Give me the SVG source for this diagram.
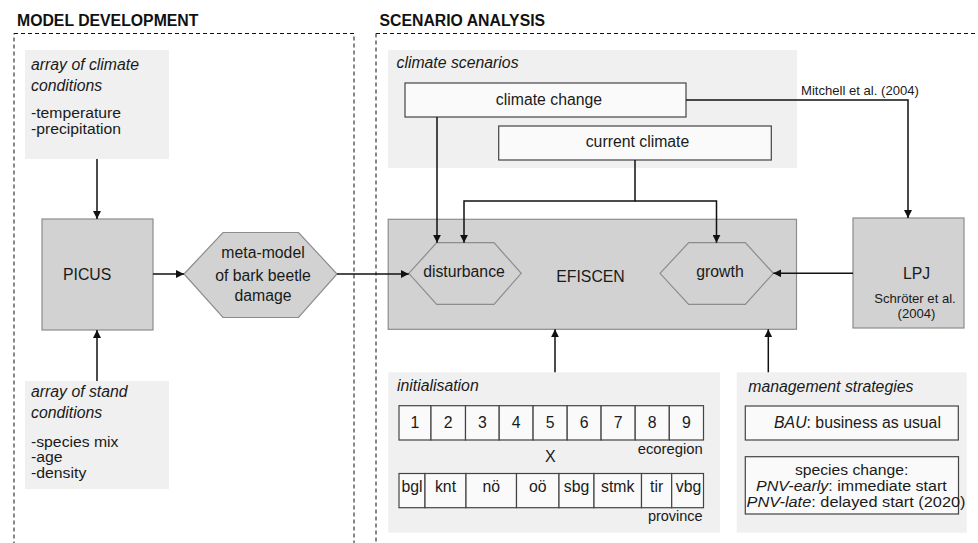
<svg xmlns="http://www.w3.org/2000/svg" width="978" height="543" viewBox="0 0 978 543">
<defs>
<marker id="ah" viewBox="0 0 10 10" refX="10" refY="5" markerWidth="8" markerHeight="8" markerUnits="userSpaceOnUse" orient="auto">
<path d="M0,0 L10,5 L0,10 z" fill="#111"/>
</marker>
</defs>
<style>
text{font-family:"Liberation Sans",Arial,sans-serif;fill:#1a1a1a;font-size:15.8px}
.hdr{font-weight:bold;font-size:15.8px;fill:#111}
.it{font-style:italic}
.sm{font-size:13.1px}
.tight{font-size:14px}
.mid{text-anchor:middle}
.end{text-anchor:end}
.dash{fill:none;stroke:#111;stroke-width:1;stroke-dasharray:4,3}
.bg{fill:#f0f0f0;stroke:none}
.node{fill:#d1d2d1;stroke:#8c8c8c;stroke-width:1.2}
.wbox{fill:#fafafa;stroke:#444;stroke-width:1.2}
.cell{fill:#fafafa;stroke:#444;stroke-width:1.2}
.conn path{fill:none;stroke:#111;stroke-width:1.5}
</style>
<rect width="978" height="543" fill="#ffffff"/>

<g id="model-development">
<text class="hdr" x="17" y="26">MODEL DEVELOPMENT</text>
<rect class="dash" x="14" y="33.5" width="340" height="560"/>
</g>
<g id="scenario-analysis">
<text class="hdr" x="379.5" y="26">SCENARIO ANALYSIS</text>
<rect class="dash" x="376" y="33.5" width="660" height="560"/>
</g>

<g id="climate-conditions">
<rect class="bg" x="25" y="50" width="144" height="109"/>
<text class="it" x="31" y="69.5">array of climate</text>
<text class="it" x="31" y="90.5">conditions</text>
<text class="tight" x="31" y="117.5" textLength="90" lengthAdjust="spacingAndGlyphs">-temperature</text>
<text class="tight" x="31" y="133.5" textLength="90" lengthAdjust="spacingAndGlyphs">-precipitation</text>
</g>

<g id="stand-conditions">
<rect class="bg" x="25" y="381" width="144" height="108"/>
<text class="it" x="31" y="397">array of stand</text>
<text class="it" x="31" y="418">conditions</text>
<text class="tight" x="31" y="446.5" textLength="87.5" lengthAdjust="spacingAndGlyphs">-species mix</text>
<text class="tight" x="31" y="462.3" textLength="31.6" lengthAdjust="spacingAndGlyphs">-age</text>
<text class="tight" x="31" y="478.3" textLength="55.3" lengthAdjust="spacingAndGlyphs">-density</text>
</g>

<g id="picus">
<rect class="node" x="42" y="219" width="111" height="111"/>
<text x="63" y="279.5">PICUS</text>
</g>

<g id="meta-model">
<polygon class="node" points="184,274 223,232.5 298.5,232.5 337,274 298.5,317.5 223,317.5"/>
<text class="mid" x="263" y="258">meta-model</text>
<text class="mid" x="263" y="280.5">of bark beetle</text>
<text class="mid" x="263" y="301">damage</text>
</g>

<g id="climate-scenarios">
<rect class="bg" x="388" y="50" width="409" height="118"/>
<text class="it" x="396.5" y="68">climate scenarios</text>
</g>
<g id="climate-change">
<rect class="wbox" x="405" y="83" width="281" height="34"/>
<text class="mid" x="549" y="105">climate change</text>
</g>
<g id="current-climate">
<rect class="wbox" x="498.7" y="126" width="272.6" height="34"/>
<text class="mid" x="637.5" y="147">current climate</text>
</g>

<g id="efiscen">
<rect class="node" x="388.2" y="219.3" width="408.3" height="110"/>
<text class="mid" x="590.5" y="282">EFISCEN</text>
</g>
<g id="disturbance">
<polygon fill="none" stroke="#8c8c8c" stroke-width="1.2" points="408.8,273.3 436.7,242.7 494,242.7 521.2,273.3 494,304.3 436.7,304.3"/>
<text class="mid" x="464" y="277">disturbance</text>
</g>
<g id="growth">
<polygon fill="none" stroke="#8c8c8c" stroke-width="1.2" points="660,273.3 688.7,242.7 745.3,242.7 773.3,273.3 745.3,304.3 688.7,304.3"/>
<text class="mid" x="720" y="277">growth</text>
</g>

<g id="lpj">
<rect class="node" x="853" y="218" width="111" height="110"/>
<text class="mid" x="916.5" y="279">LPJ</text>
<text class="mid sm" x="915" y="303">Schröter et al.</text>
<text class="mid sm" x="916.5" y="318">(2004)</text>
</g>

<g id="initialisation">
<rect class="bg" x="388.2" y="372.3" width="331.8" height="160.4"/>
<text class="it" x="397" y="390.7">initialisation</text>
<g id="ecoregion-row">
<rect class="cell" x="399" y="405.7" width="32" height="34.3"/>
<rect class="cell" x="431" y="405.7" width="34.5" height="34.3"/>
<rect class="cell" x="465.5" y="405.7" width="33.7" height="34.3"/>
<rect class="cell" x="499.2" y="405.7" width="33.9" height="34.3"/>
<rect class="cell" x="533.1" y="405.7" width="34.1" height="34.3"/>
<rect class="cell" x="567.2" y="405.7" width="33.9" height="34.3"/>
<rect class="cell" x="601.1" y="405.7" width="34.1" height="34.3"/>
<rect class="cell" x="635.2" y="405.7" width="34.1" height="34.3"/>
<rect class="cell" x="669.3" y="405.7" width="34.2" height="34.3"/>
<text class="mid" x="415" y="428.3">1</text>
<text class="mid" x="448.2" y="428.3">2</text>
<text class="mid" x="482.3" y="428.3">3</text>
<text class="mid" x="516.1" y="428.3">4</text>
<text class="mid" x="550.1" y="428.3">5</text>
<text class="mid" x="584.1" y="428.3">6</text>
<text class="mid" x="618.1" y="428.3">7</text>
<text class="mid" x="652.2" y="428.3">8</text>
<text class="mid" x="686.4" y="428.3">9</text>
<text class="end" x="702.7" y="454.3" style="font-size:14.8px">ecoregion</text>
</g>
<text class="mid" x="550.3" y="462.3" style="font-size:16px">X</text>
<g id="province-row">
<rect class="cell" x="399" y="473.5" width="26" height="34.2"/>
<rect class="cell" x="425" y="473.5" width="41" height="34.2"/>
<rect class="cell" x="466" y="473.5" width="50.5" height="34.2"/>
<rect class="cell" x="516.5" y="473.5" width="42.5" height="34.2"/>
<rect class="cell" x="559" y="473.5" width="35" height="34.2"/>
<rect class="cell" x="594" y="473.5" width="47.5" height="34.2"/>
<rect class="cell" x="641.5" y="473.5" width="30.2" height="34.2"/>
<rect class="cell" x="671.7" y="473.5" width="31.8" height="34.2"/>
<text class="mid" x="412" y="491.7">bgl</text>
<text class="mid" x="445.5" y="491.7">knt</text>
<text class="mid" x="491.2" y="491.7">nö</text>
<text class="mid" x="537.7" y="491.7">oö</text>
<text class="mid" x="576.5" y="491.7">sbg</text>
<text class="mid" x="617.7" y="491.7">stmk</text>
<text class="mid" x="656.6" y="491.7">tir</text>
<text class="mid" x="688.5" y="491.7">vbg</text>
<text class="end" x="702.7" y="520.7" style="font-size:14.5px">province</text>
</g>
</g>

<g id="management-strategies">
<rect class="bg" x="736.7" y="372.3" width="230" height="160.4"/>
<text class="it" x="748.3" y="391.7">management strategies</text>
<g id="bau">
<rect class="wbox" x="745.3" y="406" width="213" height="34"/>
<text class="mid" x="857.5" y="428.3"><tspan class="it">BAU</tspan>: business as usual</text>
</g>
<g id="species-change">
<rect class="wbox" x="745.3" y="456.7" width="213.2" height="57.3"/>
<text class="tight" x="795" y="475" textLength="113.3" lengthAdjust="spacingAndGlyphs">species change:</text>
<text class="tight" x="756" y="491.2" textLength="190.7" lengthAdjust="spacingAndGlyphs"><tspan class="it">PNV-early</tspan>: immediate start</text>
<text class="tight" x="746.5" y="507.2" textLength="219" lengthAdjust="spacingAndGlyphs"><tspan class="it">PNV-late</tspan>: delayed start (2020)</text>
</g>
</g>

<g id="connectors" class="conn">
<path d="M97,159 V219" marker-end="url(#ah)"/>
<path d="M97,381 V330" marker-end="url(#ah)"/>
<path d="M153,274 H184" marker-end="url(#ah)"/>
<path d="M337,274 H408.8" marker-end="url(#ah)"/>
<path d="M437,117 V242.7" marker-end="url(#ah)"/>
<path d="M635,160 V201 H464 V242.7" marker-end="url(#ah)"/>
<path d="M635,201 H716.5 V242.7" marker-end="url(#ah)"/>
<text class="sm" x="801" y="95">Mitchell et al. (2004)</text>
<path d="M686,100 H908 V218" marker-end="url(#ah)"/>
<path d="M853,273.3 H773.3" marker-end="url(#ah)"/>
<path d="M555,372.3 V329.3" marker-end="url(#ah)"/>
<path d="M768.3,372.3 V329.3" marker-end="url(#ah)"/>
</g>
</svg>
